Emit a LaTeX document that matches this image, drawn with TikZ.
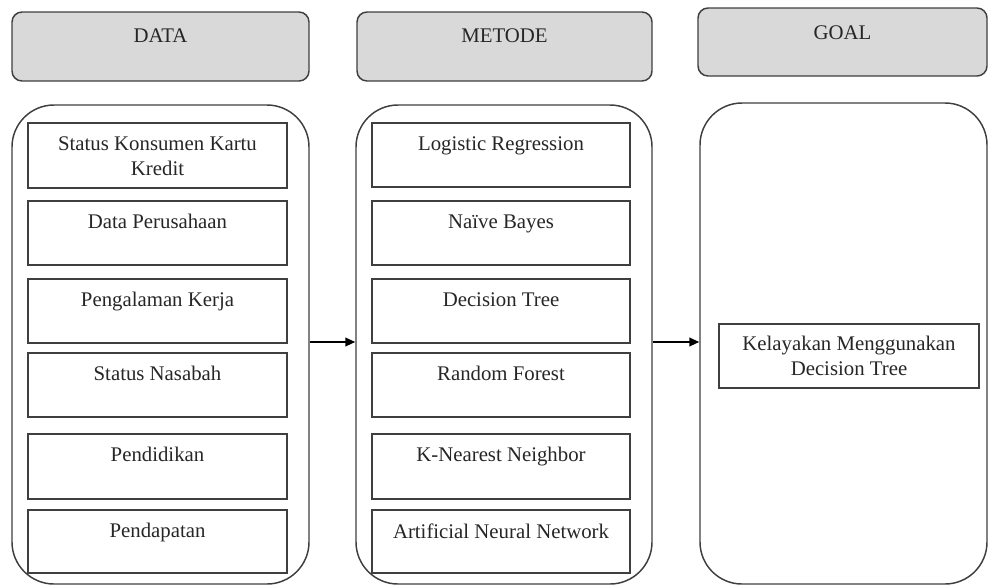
\documentclass[tikz,border=0pt]{standalone}
\usepackage{fontspec}
\setmainfont{Liberation Serif}
\newfontfamily\boxfont{Liberation Serif}
\usetikzlibrary{fit,arrows.meta}
\definecolor{edge}{HTML}{3F3F3F}
\definecolor{headfill}{HTML}{D9D9D9}
\begin{document}
\begin{tikzpicture}[x=0.75pt,y=-0.75pt,
  font=\boxfont\fontsize{15.6}{18.75}\selectfont,
  head/.style={draw=edge, fill=headfill, line width=1.1pt, rounded corners=7.5pt, inner sep=0pt},
  frame/.style={draw=edge, line width=1.1pt, rounded corners=31.5pt, inner sep=0pt},
  item/.style={draw=edge, line width=1.1pt, inner sep=0pt},
  txt/.style={anchor=north, inner sep=0pt, align=center, text=black!85, yshift=-10.5pt},
  htxt/.style={anchor=north, inner sep=0pt, align=center, text=black!85, yshift=-12.75pt},
  flow/.style={-{Triangle[length=7.5pt,width=6.5pt]}, line width=1.4pt, black}]
\useasboundingbox (0,0) rectangle (988,586);

% column headers
\node[head, fit={(12,12)(309,81)}, label={[htxt,name=hdT]north:DATA}] (hd) {};
\node[head, fit={(357,12)(652,81)}, label={[htxt,name=hmT]north:METODE}] (hm) {};
\node[head, fit={(698,8)(987,76)}, label={[htxt,name=hgT,yshift=-0.75pt]north:GOAL}] (hg) {};

% column frames
\node[frame, fit={(12,105)(309,584)}] (fd) {};
\node[frame, fit={(356,105)(652,584)}] (fm) {};
\node[frame, fit={(700,103)(987,584)}] (fg) {};

% data items
\node[item, fit={(28,123)(287,188)}, label={[txt,name=d1T]north:Status Konsumen Kartu\\Kredit}] (d1) {};
\node[item, fit={(28,201)(287,265)}, label={[txt,name=d2T]north:Data Perusahaan}] (d2) {};
\node[item, fit={(28,279)(287,343)}, label={[txt,name=d3T]north:Pengalaman Kerja}] (d3) {};
\node[item, fit={(28,353)(287,417)}, label={[txt,name=d4T]north:Status Nasabah}] (d4) {};
\node[item, fit={(28,434)(287,499)}, label={[txt,name=d5T]north:Pendidikan}] (d5) {};
\node[item, fit={(28,510)(287,573)}, label={[txt,name=d6T]north:Pendapatan}] (d6) {};

% method items
\node[item, fit={(372,123)(630,187)}, label={[txt,name=m1T]north:Logistic Regression}] (m1) {};
\node[item, fit={(372,201)(630,265)}, label={[txt,name=m2T]north:Naïve Bayes}] (m2) {};
\node[item, fit={(372,279)(630,343)}, label={[txt,name=m3T]north:Decision Tree}] (m3) {};
\node[item, fit={(372,353)(630,417)}, label={[txt,name=m4T]north:Random Forest}] (m4) {};
\node[item, fit={(372,434)(630,499)}, label={[txt,name=m5T]north:K-Nearest Neighbor}] (m5) {};
\node[item, fit={(372,510)(630,573)}, label={[txt,name=m6T]north:Artificial Neural Network}] (m6) {};

% goal item
\node[item, fit={(719,324)(979,388)}, label={[txt,name=g1T,yshift=0.75pt]north:Kelayakan Menggunakan\\Decision Tree}] (g1) {};

% flow between columns
\coordinate (flowy) at (0,342);
\draw[flow] (fd.east |- flowy) -- (fm.west |- flowy);
\draw[flow] (fm.east |- flowy) -- (fg.west |- flowy);
\end{tikzpicture}
\end{document}
